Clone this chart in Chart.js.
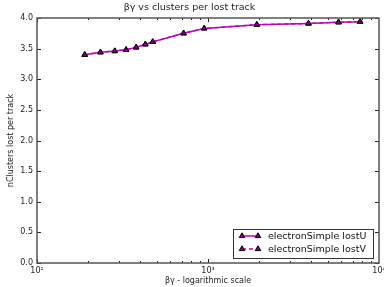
<!DOCTYPE html>
<html>
<head>
<meta charset="utf-8">
<script src="https://cdn.jsdelivr.net/npm/chart.js@4.4.1/dist/chart.umd.min.js"></script>
<style>
  html, body { margin: 0; padding: 0; background: #fff; }
  #wrap { width: 384px; height: 287px; }
</style>
</head>
<body>
<div id="wrap"><canvas id="chart" width="384" height="287"></canvas></div>
<script>
// βγ values (x, log scale)
const betaGamma = [190, 235, 285, 332, 380, 430, 475, 720, 950, 1930, 3870, 5800, 7750];
// clusters lost per track
const lostU = [3.40, 3.44, 3.46, 3.48, 3.52, 3.57, 3.61, 3.75, 3.83, 3.89, 3.91, 3.93, 3.94];
const lostV = [3.40, 3.44, 3.46, 3.48, 3.52, 3.57, 3.61, 3.75, 3.83, 3.89, 3.91, 3.93, 3.94];
const seriesNames = ["electronSimple lostU", "electronSimple lostV"];
const xMajor = [100, 1000, 10000];
const xLabels = ["10\u00B2", "10\u00B3", "10\u2074"];
const yTicks = [0, 0.5, 1, 1.5, 2, 2.5, 3, 3.5, 4];

const FONT = "'DejaVu Sans', sans-serif";
const lineColor = "#c000c0";
const markFill = "#800080";

function toPoints(vals) {
  return betaGamma.map((b, i) => ({ x: b, y: vals[i] }));
}

// cadre + ticks vers l'intérieur (style matplotlib)
const frameTicks = {
  id: "frameTicks",
  afterDraw(chart) {
    const { ctx, chartArea: a, scales } = chart;
    ctx.save();
    ctx.strokeStyle = "#222";
    ctx.lineWidth = 1;
    ctx.beginPath();
    for (let d = 100; d < 10000; d *= 10) {
      for (let k = 1; k < 10; k++) {
        const px = Math.round(scales.x.getPixelForValue(d * k)) + 0.5;
        const len = k === 1 ? 4 : 2;
        ctx.moveTo(px, a.bottom); ctx.lineTo(px, a.bottom - len);
        ctx.moveTo(px, a.top); ctx.lineTo(px, a.top + len);
      }
    }
    yTicks.forEach((v) => {
      const py = Math.round(scales.y.getPixelForValue(v)) + 0.5;
      ctx.moveTo(a.left, py); ctx.lineTo(a.left + 4, py);
      ctx.moveTo(a.right, py); ctx.lineTo(a.right - 4, py);
    });
    ctx.stroke();
    ctx.strokeStyle = "#555";
    ctx.lineWidth = 1.5;
    ctx.strokeRect(a.left, a.top, a.right - a.left, a.bottom - a.top);
    ctx.restore();
  },
};

// légende dans le coin bas-droit
const cornerLegend = {
  id: "cornerLegend",
  afterDraw(chart) {
    const { ctx, chartArea: a } = chart;
    const w = 140, h = 29;
    const x0 = a.right - 6 - w, y0 = a.bottom - 5 - h;
    ctx.save();
    ctx.fillStyle = "#fff";
    ctx.fillRect(x0, y0, w, h);
    ctx.strokeStyle = "#333";
    ctx.lineWidth = 1;
    ctx.strokeRect(x0 + 0.5, y0 + 0.5, w, h);
    ctx.font = "9.5px " + FONT;
    ctx.textBaseline = "middle";
    chart.data.datasets.forEach((ds, i) => {
      const cy = y0 + 7 + i * 13;
      const lx1 = x0 + 9, lx2 = x0 + 25;
      ctx.strokeStyle = ds.borderColor;
      ctx.lineWidth = ds.borderWidth;
      ctx.setLineDash(ds.borderDash || []);
      ctx.beginPath(); ctx.moveTo(lx1, cy); ctx.lineTo(lx2, cy); ctx.stroke();
      ctx.setLineDash([]);
      [lx1, lx2].forEach((mx) => {
        ctx.fillStyle = ds.pointBackgroundColor;
        ctx.strokeStyle = ds.pointBorderColor;
        ctx.lineWidth = 1;
        Chart.helpers.drawPoint(ctx, {
          pointStyle: "triangle", radius: ds.pointRadius, borderWidth: 1,
        }, mx, cy);
      });
      ctx.fillStyle = "#111";
      ctx.fillText(ds.label, x0 + 35, cy + 0.5);
    });
    ctx.restore();
  },
};

const commonDs = {
  borderColor: lineColor,
  borderWidth: 1.5,
  pointStyle: "triangle",
  pointRadius: 3.2,
  pointBackgroundColor: markFill,
  pointBorderColor: "#000",
  pointBorderWidth: 1,
  tension: 0,
  fill: false,
};

const ctx = document.getElementById("chart").getContext("2d");
new Chart(ctx, {
  type: "line",
  data: {
    datasets: [
      Object.assign({ label: seriesNames[0], data: toPoints(lostU) }, commonDs),
      Object.assign({ label: seriesNames[1], data: toPoints(lostV), borderDash: [4, 3] }, commonDs),
    ],
  },
  options: {
    responsive: false,
    animation: false,
    events: [],
    layout: { padding: { left: 0, right: 5, top: 0, bottom: 0 } },
    plugins: {
      legend: { display: false },
      tooltip: { enabled: false },
      title: {
        display: true,
        text: "\u03B2\u03B3 vs clusters per lost track",
        color: "#222",
        font: { family: FONT, size: 9.5, weight: "normal" },
        padding: { top: 2, bottom: 4.6 },
      },
    },
    scales: {
      x: {
        type: "logarithmic",
        min: 100,
        max: 10000,
        grid: { display: false, drawTicks: false },
        border: { display: false },
        afterBuildTicks(scale) {
          scale.ticks = xMajor.map((v) => ({ value: v, major: true }));
        },
        ticks: {
          autoSkip: false,
          maxRotation: 0,
          padding: 3,
          color: "#222",
          font: { family: FONT, size: 8 },
          callback: (v) => {
            const i = xMajor.indexOf(v);
            return i >= 0 ? xLabels[i] : "";
          },
        },
        title: {
          display: true,
          text: "\u03B2\u03B3 - logarithmic scale",
          color: "#222",
          font: { family: FONT, size: 8 },
          padding: { top: 0, bottom: 1 },
        },
        afterFit(scale) {
          scale.height = 24;
          scale.paddingLeft = 0;
          scale.paddingRight = 0;
        },
      },
      y: {
        min: 0,
        max: 4,
        grid: { display: false, drawTicks: false },
        border: { display: false },
        afterBuildTicks(scale) {
          scale.ticks = yTicks.map((v) => ({ value: v }));
        },
        ticks: {
          padding: 4,
          color: "#222",
          font: { family: FONT, size: 8 },
          callback: (v) => v.toFixed(1),
        },
        title: {
          display: true,
          text: "nClusters lost per track",
          color: "#222",
          font: { family: FONT, size: 8 },
          padding: { top: 6, bottom: 0 },
        },
        afterFit(scale) {
          scale.width = 37;
          scale.paddingTop = 0;
          scale.paddingBottom = 0;
        },
      },
    },
  },
  plugins: [frameTicks, cornerLegend],
});
</script>
</body>
</html>
